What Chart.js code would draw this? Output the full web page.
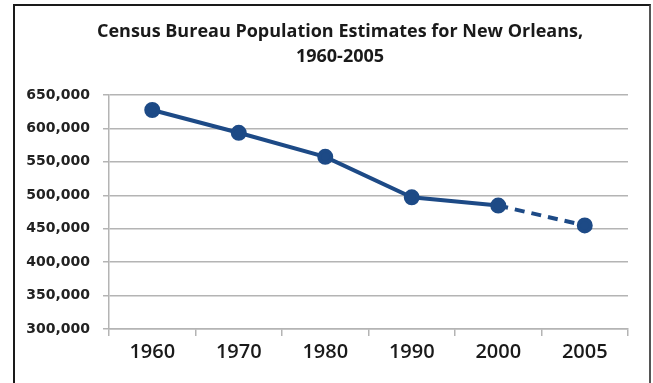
<!DOCTYPE html>
<html>
<head>
<meta charset="utf-8">
<script src="https://cdn.jsdelivr.net/npm/chart.js@4"></script>
<style>
    html, body { margin: 0; padding: 0; background: #fff; }
    #wrap { position: relative; width: 653px; height: 383px; }
    #frame {
        position: absolute; left: 13px; top: 4px; width: 634px; height: 400px;
        border-top: 2px solid #1a1a1a; border-left: 2px solid #1a1a1a; border-right: 2px solid #555;
        pointer-events: none;
    }
</style>
</head>
<body>
<div id="wrap">
    <canvas id="grafico" width="653" height="383"></canvas>
    <div id="frame"></div>
</div>
<script>
// Dados
const anos = ['1960', '1970', '1980', '1990', '2000', '2005'];
const populacao = [627525, 593471, 557515, 496938, 484674, 454863];
const tituloLinhas = ['Census Bureau Population Estimates for New Orleans,', '1960-2005'];
const eixoYMin = 300000;
const eixoYMax = 650000;
const eixoYPasso = 50000;

const azul = '#1d4a86';
const cinza = '#b4b4b4';

// Título desenhado à mão para poder centralizar em x = 340
const pluginTitulo = {
    id: 'tituloCentro',
    afterDraw(chart) {
        const c = chart.ctx;
        c.save();
        c.fillStyle = '#1a1a1a';
        c.font = '700 18px "Open Sans"';
        c.textAlign = 'center';
        c.textBaseline = 'middle';
        tituloLinhas.forEach((linha, i) => c.fillText(linha, 340, 32 + i * 25));
        c.restore();
    }
};

const ctx = document.getElementById('grafico').getContext('2d');
const grafico = new Chart(ctx, {
    type: 'line',
    data: {
        labels: anos,
        datasets: [{
            data: populacao,
            borderColor: azul,
            backgroundColor: azul,
            borderWidth: 4,
            pointRadius: 6,
            pointBackgroundColor: azul,
            pointBorderColor: azul,
            tension: 0,
            // último trecho (estimativa) tracejado
            segment: {
                borderDash: c => c.p0DataIndex === 4 ? [10, 7] : undefined
            }
        }]
    },
    options: {
        responsive: false,
        animation: false,
        layout: { padding: { left: 14, right: 25, top: 95, bottom: 0 } },
        plugins: {
            legend: { display: false },
            tooltip: { enabled: false },
            title: { display: false }
        },
        scales: {
            x: {
                offset: true,
                grid: {
                    offset: true,
                    drawOnChartArea: false,
                    color: cinza,
                    lineWidth: 1.5,
                    tickLength: 7
                },
                border: { color: cinza, width: 1.5 },
                ticks: {
                    color: '#1a1a1a',
                    font: { family: '"Open Sans"', size: 20, weight: '600' },
                    padding: 4
                },
                afterFit: s => { s.height = 54; }
            },
            y: {
                min: eixoYMin,
                max: eixoYMax,
                grid: { color: cinza, lineWidth: 1.5, tickLength: 6 },
                border: { color: cinza, width: 1.5 },
                ticks: {
                    stepSize: eixoYPasso,
                    color: '#222',
                    font: { family: '"DejaVu Sans"', size: 14, weight: 'bold' },
                    padding: 13,
                    callback: v => v.toLocaleString('en-US')
                },
                afterFit: s => { s.width = 95; }
            }
        }
    },
    plugins: [pluginTitulo]
});
</script>
</body>
</html>
